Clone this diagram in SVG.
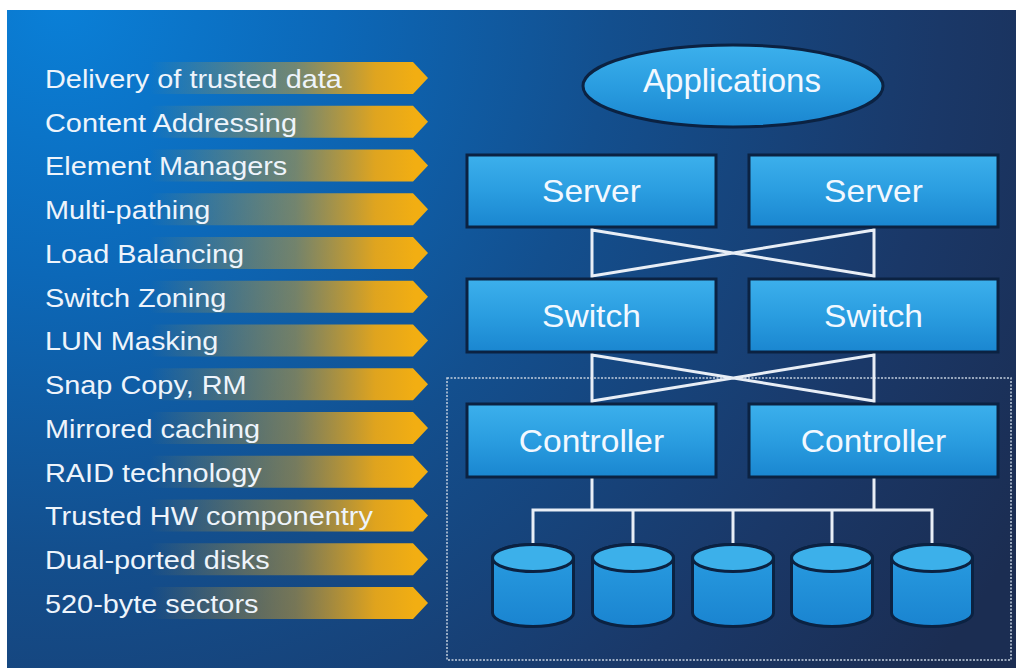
<svg xmlns="http://www.w3.org/2000/svg" width="1016" height="668" viewBox="0 0 1016 668">
<defs>
<radialGradient id="bg" gradientUnits="userSpaceOnUse" cx="60" cy="0" r="1100">
<stop offset="0" stop-color="#0a80d8"/>
<stop offset="0.25" stop-color="#0c68b8"/>
<stop offset="0.5" stop-color="#134f8e"/>
<stop offset="0.8" stop-color="#1a3868"/>
<stop offset="1" stop-color="#1b2d52"/>
</radialGradient>
<linearGradient id="band" gradientUnits="userSpaceOnUse" x1="150" y1="0" x2="415" y2="0">
<stop offset="0" stop-color="#eeaa14" stop-opacity="0"/>
<stop offset="0.55" stop-color="#d8a42a" stop-opacity="0.5"/>
<stop offset="0.85" stop-color="#eaa818" stop-opacity="0.95"/>
<stop offset="1" stop-color="#f2ae12" stop-opacity="1"/>
</linearGradient>
<linearGradient id="box" x1="0" y1="0" x2="0" y2="1">
<stop offset="0" stop-color="#3cb0ec"/>
<stop offset="0.5" stop-color="#2a9de0"/>
<stop offset="1" stop-color="#1a86d0"/>
</linearGradient>
<linearGradient id="disk" x1="0" y1="0" x2="0" y2="1">
<stop offset="0" stop-color="#2a9ee2"/>
<stop offset="1" stop-color="#1a84d0"/>
</linearGradient>
<path id="arrow" d="M45 -16 L413 -16 L428 0 L413 16 L45 16 Z"/>
<path id="diskshape" d="M-40.5 0 L-40.5 55 A40.5 13.5 0 0 0 40.5 55 L40.5 0 A40.5 13.5 0 0 0 -40.5 0 Z"/>
</defs>
<style>
.list{font-family:"Liberation Sans",Arial,sans-serif;font-size:26.5px;fill:#eef4fb}
.lbl{font-family:"Liberation Sans",Arial,sans-serif;font-size:30.5px;fill:#f2f8ff;text-anchor:middle}
.box{fill:url(#box);stroke:#0b2242;stroke-width:3}
.dk{fill:url(#disk);stroke:#0b2242;stroke-width:3}
.dktop{fill:#3cb0ea;stroke:#0b2242;stroke-width:3}
.ln{stroke:#e8eef6;stroke-width:3;fill:none}
</style>
<rect x="0" y="0" width="1016" height="668" fill="#ffffff"/>
<rect x="7" y="10" width="1009" height="658" fill="url(#bg)"/>

<g id="list">
<g fill="url(#band)">
<use href="#arrow" y="78"/>
<use href="#arrow" y="121.75"/>
<use href="#arrow" y="165.5"/>
<use href="#arrow" y="209.25"/>
<use href="#arrow" y="253"/>
<use href="#arrow" y="296.75"/>
<use href="#arrow" y="340.5"/>
<use href="#arrow" y="384.25"/>
<use href="#arrow" y="428"/>
<use href="#arrow" y="471.75"/>
<use href="#arrow" y="515.5"/>
<use href="#arrow" y="559.25"/>
<use href="#arrow" y="603"/>
</g>
<g transform="scale(1.09 1)">
<text class="list" x="41.3" y="88">Delivery of trusted data</text>
<text class="list" x="41.3" y="131.75">Content Addressing</text>
<text class="list" x="41.3" y="175.5">Element Managers</text>
<text class="list" x="41.3" y="219.25">Multi-pathing</text>
<text class="list" x="41.3" y="263">Load Balancing</text>
<text class="list" x="41.3" y="306.75">Switch Zoning</text>
<text class="list" x="41.3" y="350.5">LUN Masking</text>
<text class="list" x="41.3" y="394.25">Snap Copy, RM</text>
<text class="list" x="41.3" y="438">Mirrored caching</text>
<text class="list" x="41.3" y="481.75">RAID technology</text>
<text class="list" x="41.3" y="525.5">Trusted HW componentry</text>
<text class="list" x="41.3" y="569.25">Dual-ported disks</text>
<text class="list" x="41.3" y="613">520-byte sectors</text>
</g>
</g>

<rect id="storage-frame" x="447" y="378" width="564" height="282" fill="none" stroke="#c4d0de" stroke-width="1.5" stroke-dasharray="2 1.5"/>

<g id="connectors" class="ln">
<path d="M592 227 V279 M874 227 V279 M592 230 L874 276 M874 230 L592 276"/>
<path d="M592 352 V404 M874 352 V404 M592 355 L874 401 M874 355 L592 401"/>
<path d="M592 477 V510 M874 477 V510 M533 545 V510 H932 V545 M633 510 V545 M733 510 V545 M832 510 V545"/>
</g>

<g id="applications">
<ellipse cx="733" cy="86" rx="150" ry="41" class="box"/>
<text class="lbl" x="732" y="92" style="font-size:33px">Applications</text>
</g>

<g id="server-left">
<rect class="box" x="467" y="155" width="249" height="72"/>
<text class="lbl" transform="scale(1.1 1)" x="537.7" y="202">Server</text>
</g>
<g id="server-right">
<rect class="box" x="749" y="155" width="249" height="72"/>
<text class="lbl" transform="scale(1.1 1)" x="794.1" y="202">Server</text>
</g>
<g id="switch-left">
<rect class="box" x="467" y="279" width="249" height="73"/>
<text class="lbl" transform="scale(1.1 1)" x="537.7" y="327">Switch</text>
</g>
<g id="switch-right">
<rect class="box" x="749" y="279" width="249" height="73"/>
<text class="lbl" transform="scale(1.1 1)" x="794.1" y="327">Switch</text>
</g>
<g id="controller-left">
<rect class="box" x="467" y="404" width="249" height="73"/>
<text class="lbl" transform="scale(1.1 1)" x="537.7" y="452">Controller</text>
</g>
<g id="controller-right">
<rect class="box" x="749" y="404" width="249" height="73"/>
<text class="lbl" transform="scale(1.1 1)" x="794.1" y="452">Controller</text>
</g>

<g id="disk-1" transform="translate(533 558)"><use href="#diskshape" class="dk"/><ellipse rx="40.5" ry="13.5" class="dktop"/></g>
<g id="disk-2" transform="translate(633 558)"><use href="#diskshape" class="dk"/><ellipse rx="40.5" ry="13.5" class="dktop"/></g>
<g id="disk-3" transform="translate(733 558)"><use href="#diskshape" class="dk"/><ellipse rx="40.5" ry="13.5" class="dktop"/></g>
<g id="disk-4" transform="translate(832 558)"><use href="#diskshape" class="dk"/><ellipse rx="40.5" ry="13.5" class="dktop"/></g>
<g id="disk-5" transform="translate(932 558)"><use href="#diskshape" class="dk"/><ellipse rx="40.5" ry="13.5" class="dktop"/></g>
</svg>
